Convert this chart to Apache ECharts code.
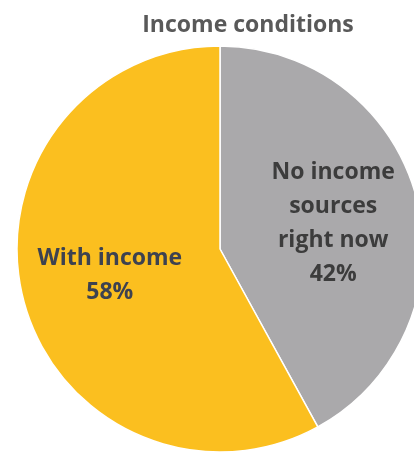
<!DOCTYPE html>
<html>
<head>
<meta charset="utf-8">
<script src="https://cdn.jsdelivr.net/npm/echarts@6/dist/echarts.min.js"></script>
<style>
  html, body { margin: 0; padding: 0; background: #fff; }
  #chart { width: 414px; height: 452px; }
</style>
</head>
<body>
<div id="chart"></div>
<script>
const categories = ['No income\nsources\nright now', 'With income']
const values = [42, 58]
const COLORS = ['#aaa9ab', '#fbbf1f']

const chart = echarts.init(document.getElementById('chart'))

chart.setOption({
  animation: false,
  title: {
    text: 'Income conditions',
    left: 243,
    top: 9,
    textAlign: 'center',
    textStyle: { fontFamily: 'Open Sans', fontWeight: 'bold', fontSize: 23, color: '#595959' },
  },
  series: [{
    type: 'pie',
    center: [220, 249],
    radius: 203,
    startAngle: 90,
    clockwise: true,
    itemStyle: { borderColor: '#fff', borderWidth: 1.5 },
    label: {
      show: true,
      position: 'inside',
      formatter: p => `${p.name}\n${p.value}%`,
      fontFamily: 'Open Sans',
      fontWeight: 'bold',
      fontSize: 23,
      lineHeight: 34,
      color: '#404040',
    },
    emphasis: { disabled: true },
    data: categories.map((name, i) => ({
      name,
      value: values[i],
      itemStyle: { color: COLORS[i] },
      label: i === 0
        ? { padding: [14, 0, 0, 24], color: '#3c3c3c' }
        : { padding: [0, 18, 0, 0], color: '#3d4250' },
    })),
  }],
})
</script>
</body>
</html>
